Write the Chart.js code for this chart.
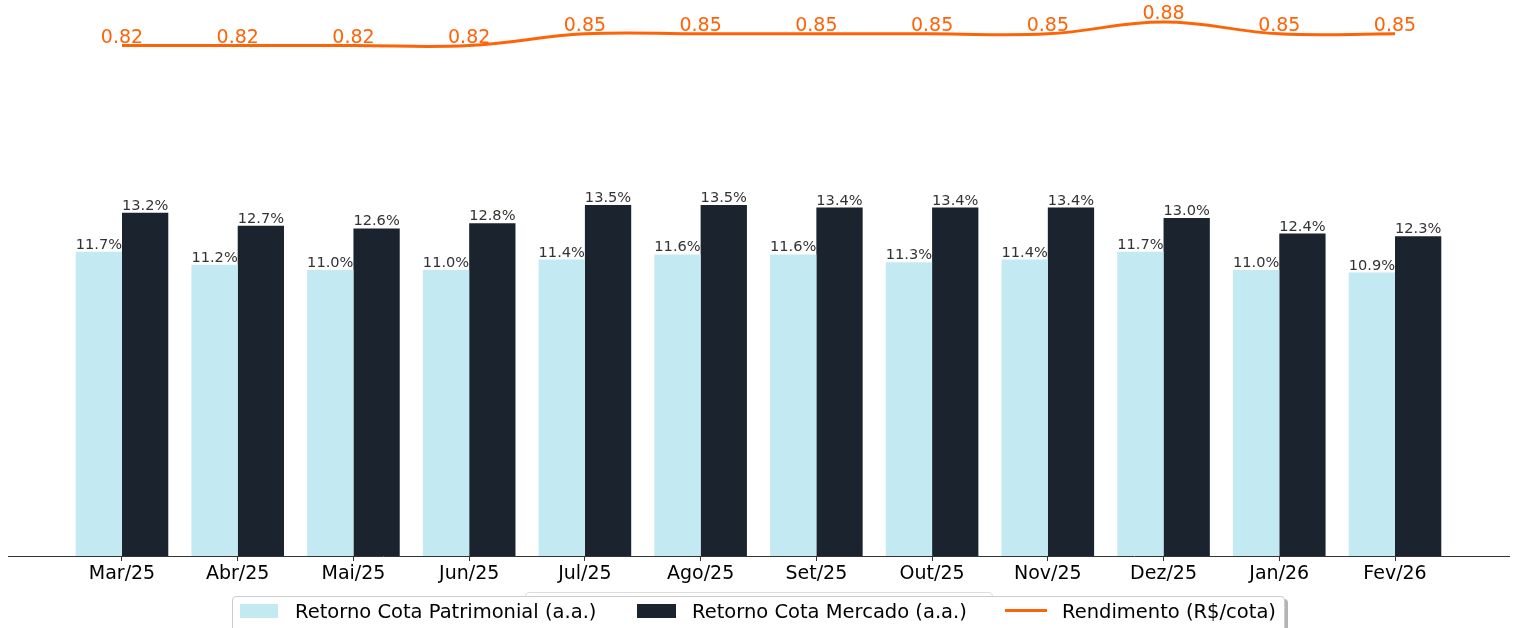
<!DOCTYPE html>
<html>
<head>
    <title>Retorno Cota e Rendimento</title>
    <script src="https://cdn.jsdelivr.net/npm/chart.js"></script>
    <style>
        body {
            margin: 0;
            font-family: "DejaVu Sans", sans-serif;
            background: #fff;
        }
        #wrap {
            position: relative;
            width: 1517px;
            height: 628px;
            overflow: hidden;
        }
        .box {
            position: absolute;
            background: #fff;
            border: 1px solid #cccccc;
            border-radius: 4px;
        }
        #ghost { left: 525px; top: 592px; width: 466px; height: 60px; border-color: #dddddd; }
        #legend { left: 232px; top: 596px; width: 1051px; height: 60px; box-shadow: 3px 3px 0 #b5b5b5; }
        .item {
            position: absolute;
            font-size: 19.5px;
            color: #000;
            top: 600px;
            white-space: nowrap;
        }
        .patch { position: absolute; }
    </style>
</head>
<body>
<div id="wrap">
    <canvas id="chart" width="1517" height="628"></canvas>
    <div class="box" id="ghost"></div>
    <div class="box" id="legend"></div>
    <div class="patch" style="left:240px;top:604px;width:38px;height:14px;background:#c3e9f3"></div>
    <div class="item" style="left:295px">Retorno Cota Patrimonial (a.a.)</div>
    <div class="patch" style="left:637px;top:604px;width:39px;height:14px;background:#1b232e"></div>
    <div class="item" style="left:692px">Retorno Cota Mercado (a.a.)</div>
    <div class="patch" style="left:1005px;top:609px;width:42px;height:3px;background:#ff6308"></div>
    <div class="item" style="left:1062px">Rendimento (R$/cota)</div>
</div>
<script>
    const months = ["Mar/25", "Abr/25", "Mai/25", "Jun/25", "Jul/25", "Ago/25", "Set/25", "Out/25", "Nov/25", "Dez/25", "Jan/26", "Fev/26"];
    const retornoPatrimonial = [11.7, 11.2, 11.0, 11.0, 11.4, 11.6, 11.6, 11.3, 11.4, 11.7, 11.0, 10.9];
    const retornoMercado = [13.2, 12.7, 12.6, 12.8, 13.5, 13.5, 13.4, 13.4, 13.4, 13.0, 12.4, 12.3];
    const rendimento = [0.82, 0.82, 0.82, 0.82, 0.85, 0.85, 0.85, 0.85, 0.85, 0.88, 0.85, 0.85];

    const toPoints = arr => arr.map((v, i) => ({ x: i, y: v }));

    // value labels above bars and line points
    const valueLabels = {
        id: 'valueLabels',
        afterDatasetsDraw(chart) {
            const ctx = chart.ctx;
            ctx.save();
            ctx.textAlign = 'center';
            ctx.textBaseline = 'alphabetic';
            chart.data.datasets.forEach((ds, di) => {
                const meta = chart.getDatasetMeta(di);
                meta.data.forEach((el, i) => {
                    const v = ds.data[i].y;
                    if (ds.type === 'line') {
                        ctx.font = '19px "DejaVu Sans"';
                        ctx.fillStyle = '#ff6308';
                        ctx.fillText(v.toFixed(2), el.x, el.y - 3);
                    } else {
                        ctx.font = '14.6px "DejaVu Sans"';
                        ctx.fillStyle = '#333333';
                        ctx.fillText(v.toFixed(1) + '%', el.x, el.y - 3);
                    }
                });
            });
            ctx.restore();
        }
    };

    new Chart(document.getElementById('chart'), {
        type: 'bar',
        data: {
            datasets: [
                {
                    type: 'line',
                    label: 'Rendimento (R$/cota)',
                    data: toPoints(rendimento),
                    yAxisID: 'y2',
                    borderColor: '#ff6308',
                    borderWidth: 3,
                    pointRadius: 0,
                    tension: 0.4,
                    fill: false,
                    order: 0
                },
                {
                    label: 'Retorno Cota Patrimonial (a.a.)',
                    data: toPoints(retornoPatrimonial),
                    yAxisID: 'y',
                    backgroundColor: '#c3e9f3',
                    categoryPercentage: 0.8,
                    barPercentage: 1.0,
                    order: 1
                },
                {
                    label: 'Retorno Cota Mercado (a.a.)',
                    data: toPoints(retornoMercado),
                    yAxisID: 'y',
                    backgroundColor: '#1b232e',
                    categoryPercentage: 0.8,
                    barPercentage: 1.0,
                    order: 1
                }
            ]
        },
        options: {
            responsive: false,
            animation: false,
            layout: { padding: { left: 8, right: 8, top: 0, bottom: 0 } },
            plugins: {
                legend: { display: false },
                tooltip: { enabled: false }
            },
            scales: {
                x: {
                    type: 'linear',
                    offset: false,
                    min: -0.985,
                    max: 11.985,
                    afterBuildTicks(scale) {
                        scale.ticks = months.map((m, i) => ({ value: i }));
                    },
                    afterFit(scale) {
                        scale.height = 72;
                    },
                    ticks: {
                        autoSkip: false,
                        maxRotation: 0,
                        padding: 2,
                        color: '#000',
                        font: { family: 'DejaVu Sans', size: 19 },
                        callback: v => months[v] || ''
                    },
                    grid: {
                        display: true,
                        offset: false,
                        drawOnChartArea: false,
                        drawTicks: true,
                        tickLength: 5,
                        color: '#333'
                    },
                    border: { display: true, color: '#333', width: 1 }
                },
                y: {
                    display: false,
                    min: 0,
                    max: 21.385
                },
                y2: {
                    display: false,
                    position: 'right',
                    min: -0.489,
                    max: 0.9367
                }
            }
        },
        plugins: [valueLabels]
    });
</script>
</body>
</html>
